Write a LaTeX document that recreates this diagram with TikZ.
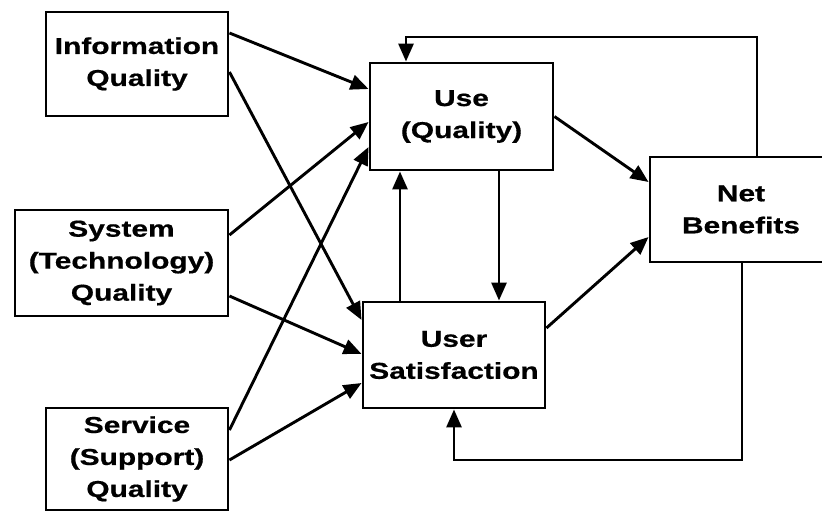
\documentclass[tikz,border=0pt]{standalone}
\usepackage{fontspec}
\newfontfamily\boxfont[FakeStretch=1.3,FakeBold=0.6]{Liberation Sans}
\usetikzlibrary{arrows.meta}
\begin{document}
\begin{tikzpicture}[x=1pt,y=-1pt,
  box/.style={draw, line width=2.9pt, rectangle, inner sep=0pt, align=center,
    font=\boxfont\bfseries\fontsize{23}{32}\selectfont},
  arr/.style={line width=2.9pt, -{Triangle[length=18pt,width=15pt]}},
  ln/.style={line width=2.9pt}]
\useasboundingbox[fill=white] (0,0) rectangle (822,512);
\node[box, minimum width=182pt, minimum height=104pt] (info) at (137,64) {Information\\Quality};
\node[box, minimum width=213pt, minimum height=106pt] (sys) at (121.5,263) {System\\(Technology)\\Quality};
\node[box, minimum width=182pt, minimum height=102pt] (serv) at (137,459) {Service\\(Support)\\Quality};
\node[box, minimum width=183pt, minimum height=107pt] (use) at (461.5,116.5) {Use\\(Quality)};
\node[box, minimum width=182pt, minimum height=106pt] (sat) at (454,355) {User\\Satisfaction};
\node[box, minimum width=182pt, minimum height=105pt] (net) at (741,209.5) {Net\\Benefits};
\coordinate (t1) at (406,37);
\coordinate (b1) at (454,460);
% inputs
\draw[arr] ([yshift=31pt]info.east) -- ([yshift=27.5pt]use.west);
\draw[arr] ([yshift=-8pt]info.east) -- ([yshift=35pt]sat.west);
\draw[arr] ([yshift=28pt]sys.east) -- ([yshift=-5.5pt]use.west);
\draw[arr] ([yshift=29pt]serv.east) -- ([yshift=-30.5pt]use.west);
\draw[arr] ([yshift=-33pt]sys.east) -- ([yshift=1pt]sat.west);
\draw[arr] ([yshift=-1pt]serv.east) -- ([yshift=-28pt]sat.west);
% use <-> satisfaction
\draw[arr] ([xshift=-54pt]sat.north) -- ([xshift=-54pt]sat.north |- use.south);
\draw[arr] ([xshift=37.5pt]use.south) -- ([xshift=37.5pt]use.south |- sat.north);
% to net benefits
\draw[arr] (use.east) -- ([yshift=27.5pt]net.west);
\draw[arr] ([yshift=27pt]sat.east) -- ([yshift=-27.5pt]net.west);
% feedback loops
\draw[arr] ([xshift=16pt]net.north) |- (t1) -- ([xshift=-55.5pt]use.north);
\draw[arr] ([xshift=1pt]net.south) |- (b1) -- (sat.south);
\end{tikzpicture}
\end{document}
